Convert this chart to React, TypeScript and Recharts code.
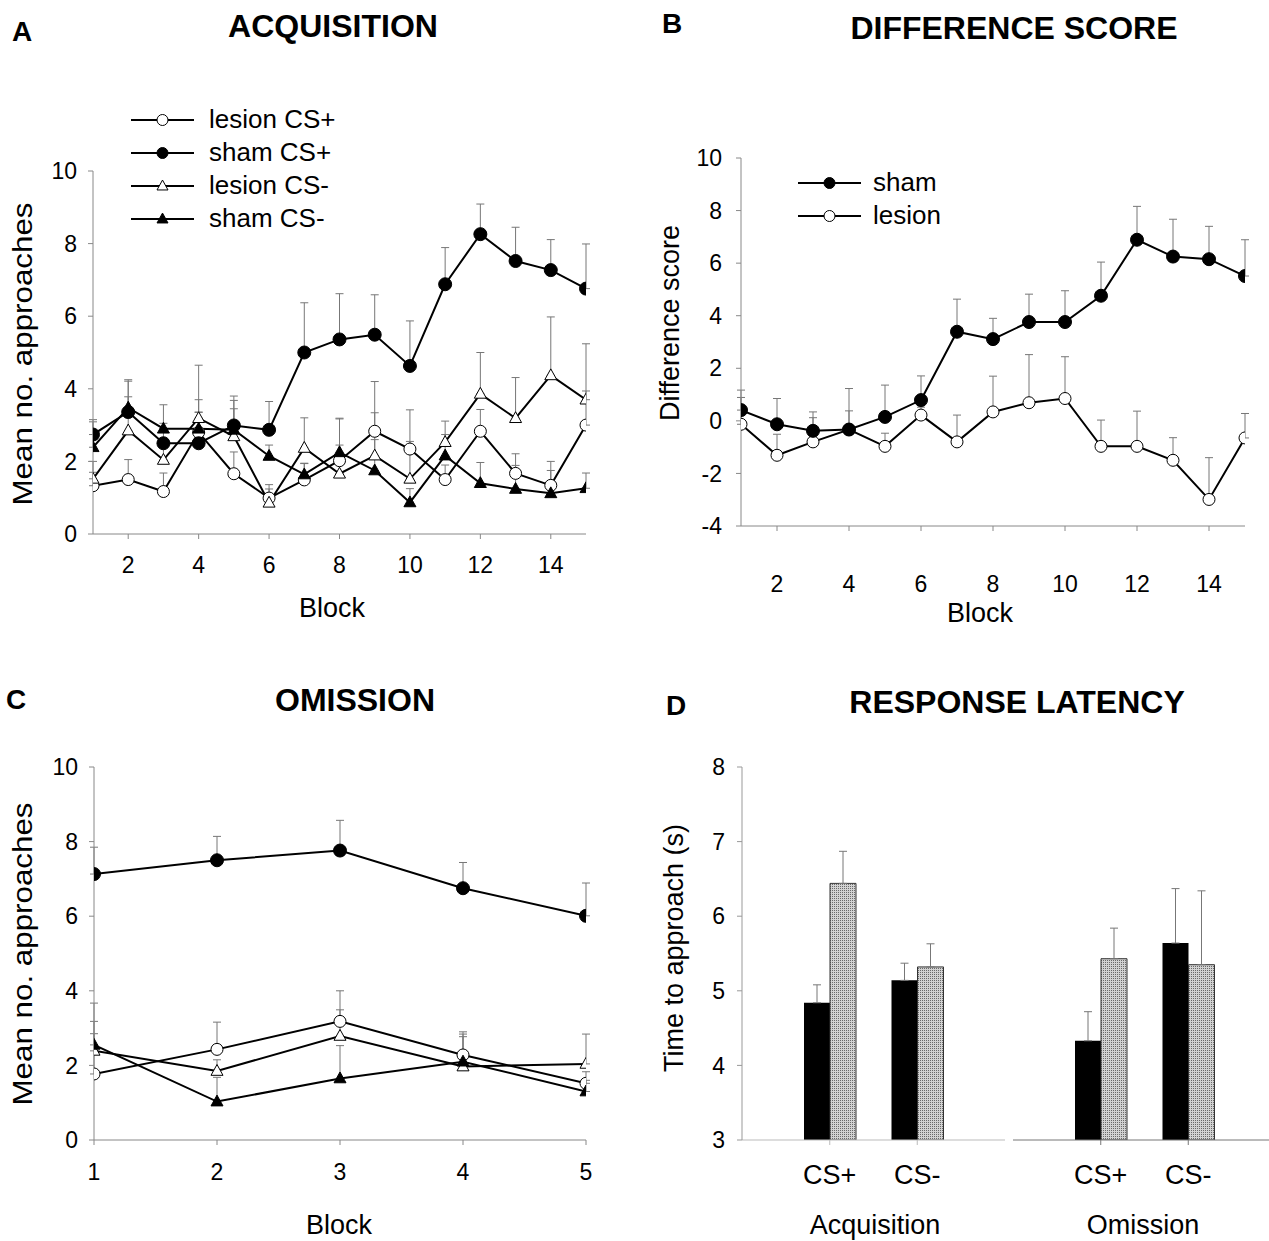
import React from "react";
import {
  LineChart,
  Line,
  XAxis,
  YAxis,
  ErrorBar,
  Legend,
  BarChart,
  Bar,
} from "recharts";

const FONT = "'Liberation Sans', Arial, Helvetica, sans-serif";

// Panel A - acquisition, mean approaches per block
const acqBlocks = [1, 2, 3, 4, 5, 6, 7, 8, 9, 10, 11, 12, 13, 14, 15];
const acqLesionPlus = [1.33, 1.5, 1.17, 2.8, 1.66, 0.99, 1.49, 2.02, 2.83, 2.34, 1.5, 2.83, 1.67, 1.34, 3.0];
const acqLesionPlusErr = [0.37, 0.55, 0.51, 0.55, 0.6, 0.37, 0.46, 0.43, 1.37, 1.08, 0.4, 0.6, 0.54, 0.66, 0.94];
const acqShamPlus = [2.74, 3.36, 2.5, 2.5, 2.99, 2.87, 5.0, 5.36, 5.49, 4.63, 6.88, 8.26, 7.52, 7.27, 6.76];
const acqShamPlusErr = [0.41, 0.85, 0.55, 0.86, 0.81, 0.78, 1.37, 1.26, 1.1, 1.24, 1.01, 0.83, 0.93, 0.84, 1.23];
const acqLesionMinus = [1.52, 2.85, 2.04, 3.19, 2.69, 0.86, 2.37, 1.66, 2.16, 1.52, 2.53, 3.86, 3.19, 4.37, 3.7];
const acqLesionMinusErr = [0.48, 0.93, 0.5, 1.46, 0.76, 0.38, 0.83, 1.51, 1.18, 1.03, 0.58, 1.14, 1.12, 1.61, 1.54];
const acqShamMinus = [2.39, 3.48, 2.9, 2.9, 2.87, 2.15, 1.64, 2.25, 1.75, 0.87, 2.16, 1.4, 1.24, 1.12, 1.26];
const acqShamMinusErr = [0.7, 0.77, 0.66, 0.8, 0.81, 0.3, 0.3, 0.94, 0.85, 0.38, 0.58, 0.57, 0.65, 0.63, 0.42];

// Panel B - difference score (CS+ minus CS-)
const diffSham = [0.41, -0.13, -0.38, -0.33, 0.15, 0.79, 3.39, 3.11, 3.76, 3.76, 4.76, 6.89, 6.25, 6.15, 5.51];
const diffShamErr = [0.76, 0.98, 0.72, 1.56, 1.21, 0.92, 1.24, 0.79, 1.06, 1.19, 1.28, 1.27, 1.42, 1.25, 1.38];
const diffLesion = [-0.13, -1.31, -0.8, -0.33, -0.97, 0.22, -0.8, 0.34, 0.69, 0.85, -0.97, -0.97, -1.5, -2.99, -0.65];
const diffLesionErr = [1.02, 0.8, 0.92, 0.71, 0.5, 0.3, 1.02, 1.36, 1.83, 1.59, 1.0, 1.34, 0.86, 1.59, 0.93];

// Panel C - omission
const omBlocks = [1, 2, 3, 4, 5];
const omLesionPlus = [1.77, 2.43, 3.18, 2.28, 1.52];
const omLesionPlusErr = [1.41, 0.73, 0.82, 0.62, 0.31];
const omShamPlus = [7.13, 7.5, 7.76, 6.75, 6.01];
const omShamPlusErr = [0.72, 0.64, 0.81, 0.69, 0.88];
const omLesionMinus = [2.39, 1.85, 2.79, 1.97, 2.04];
const omLesionMinusErr = [1.28, 0.3, 0.7, 0.87, 0.8];
const omShamMinus = [2.55, 1.03, 1.65, 2.1, 1.3];
const omShamMinusErr = [0.3, 0.65, 0.88, 0.67, 0.3];

// Panel D - response latency (acquisition CS+, CS-, omission CS+, CS-)
const cues = ["CS+", "CS-"];
const latSham = [4.84, 5.14, 4.33, 5.64];
const latShamErr = [0.24, 0.23, 0.39, 0.73];
const latLesion = [6.44, 5.32, 5.43, 5.35];
const latLesionErr = [0.43, 0.31, 0.41, 0.99];

const up = (e: number) => [0, e];

const acqData = acqBlocks.map((block, i) => ({
  block,
  lesionPlus: acqLesionPlus[i],
  lesionPlusErr: up(acqLesionPlusErr[i]),
  shamPlus: acqShamPlus[i],
  shamPlusErr: up(acqShamPlusErr[i]),
  lesionMinus: acqLesionMinus[i],
  lesionMinusErr: up(acqLesionMinusErr[i]),
  shamMinus: acqShamMinus[i],
  shamMinusErr: up(acqShamMinusErr[i]),
}));

const diffData = acqBlocks.map((block, i) => ({
  block,
  sham: diffSham[i],
  shamErr: up(diffShamErr[i]),
  lesion: diffLesion[i],
  lesionErr: up(diffLesionErr[i]),
}));

const omData = omBlocks.map((block, i) => ({
  block,
  lesionPlus: omLesionPlus[i],
  lesionPlusErr: up(omLesionPlusErr[i]),
  shamPlus: omShamPlus[i],
  shamPlusErr: up(omShamPlusErr[i]),
  lesionMinus: omLesionMinus[i],
  lesionMinusErr: up(omLesionMinusErr[i]),
  shamMinus: omShamMinus[i],
  shamMinusErr: up(omShamMinusErr[i]),
}));

const latData = (offset: number) =>
  cues.map((cue, i) => ({
    cue,
    sham: latSham[offset + i],
    shamErr: up(latShamErr[offset + i]),
    lesion: latLesion[offset + i],
    lesionErr: up(latLesionErr[offset + i]),
  }));

type Kind = "openCircle" | "filledCircle" | "openTriangle" | "filledTriangle";

const kinds: Record<string, Kind> = {
  lesionPlus: "openCircle",
  shamPlus: "filledCircle",
  lesionMinus: "openTriangle",
  shamMinus: "filledTriangle",
  sham: "filledCircle",
  lesion: "openCircle",
};

const Marker = ({ cx, cy, kind, size }: { cx?: number; cy?: number; kind: Kind; size: number }) => {
  if (cx == null || cy == null) return null;
  const fill = kind.startsWith("filled") ? "#000" : "#fff";
  if (kind.endsWith("Circle")) {
    return <circle cx={cx} cy={cy} r={size / 2} fill={fill} stroke="#000" strokeWidth={1} />;
  }
  const h = size * 0.9;
  const pts = `${cx},${cy - h * 0.6} ${cx - size / 2},${cy + h * 0.4} ${cx + size / 2},${cy + h * 0.4}`;
  return <polygon points={pts} fill={fill} stroke="#000" strokeWidth={1} />;
};

const dotFor = (kind: Kind, size: number) => (p: any) =>
  <Marker key={`${kind}-${p.index}`} cx={p.cx} cy={p.cy} kind={kind} size={size} />;

// legend rows in the order the figure lists them
const LegendBox = ({ payload, gap, order }: any) => {
  const rows = [...(payload || [])].sort(
    (a: any, b: any) => order.indexOf(a.dataKey) - order.indexOf(b.dataKey)
  );
  return (
    <div style={{ fontFamily: FONT, fontSize: 26, color: "#000" }}>
      {rows.map((entry: any) => (
        <div key={entry.value} style={{ display: "flex", alignItems: "center", height: 33 }}>
          <svg width={63} height={16}>
            <line x1={0} y1={8} x2={63} y2={8} stroke="#000" strokeWidth={2} />
            <Marker cx={31.5} cy={8} kind={kinds[entry.dataKey]} size={11} />
          </svg>
          <span style={{ marginLeft: gap }}>{entry.value}</span>
        </div>
      ))}
    </div>
  );
};

const Txt = ({ x, y, size, bold, children, rotate, stretch = 1 }: any) => (
  <div
    style={{
      position: "absolute",
      left: x,
      top: y,
      transform: `translate(-50%, -50%)${rotate ? " rotate(-90deg)" : ""} scaleX(${stretch})`,
      fontSize: size,
      fontWeight: bold ? "bold" : "normal",
      lineHeight: 1,
      whiteSpace: "nowrap",
      color: "#000",
    }}
  >
    {children}
  </div>
);

const tickStyle = { fill: "#000", fontSize: 23 };
const errProps = { width: 4, stroke: "#777", strokeWidth: 1, direction: "y" as const };

const fourLines = (size: number) => [
  <Line key="lp" dataKey="lesionPlus" name="lesion CS+" stroke="#000" strokeWidth={2} dot={dotFor("openCircle", size)} activeDot={false} isAnimationActive={false}>
    <ErrorBar dataKey="lesionPlusErr" {...errProps} />
  </Line>,
  <Line key="sp" dataKey="shamPlus" name="sham CS+" stroke="#000" strokeWidth={2} dot={dotFor("filledCircle", size + 1)} activeDot={false} isAnimationActive={false}>
    <ErrorBar dataKey="shamPlusErr" {...errProps} />
  </Line>,
  <Line key="lm" dataKey="lesionMinus" name="lesion CS-" stroke="#000" strokeWidth={2} dot={dotFor("openTriangle", size)} activeDot={false} isAnimationActive={false}>
    <ErrorBar dataKey="lesionMinusErr" {...errProps} />
  </Line>,
  <Line key="sm" dataKey="shamMinus" name="sham CS-" stroke="#000" strokeWidth={2} dot={dotFor("filledTriangle", size)} activeDot={false} isAnimationActive={false}>
    <ErrorBar dataKey="shamMinusErr" {...errProps} />
  </Line>,
];

const Stipple = ({ id }: { id: string }) => (
  <defs>
    <pattern id={id} width={2} height={2} patternUnits="userSpaceOnUse">
      <rect width={2} height={2} fill="#d2d2d2" />
      <rect width={1} height={1} fill="#6a6a6a" />
    </pattern>
  </defs>
);

const LatencyChart = ({ data, axisColor, showY, id, width, marginLeft }: any) => (
  <BarChart width={width} height={621} data={data} barGap={0} barSize={26} margin={{ top: 147, right: 0, bottom: 71, left: marginLeft }}>
    <Stipple id={id} />
    <XAxis dataKey="cue" stroke={axisColor} tickSize={5} tickMargin={20} height={30} padding={{ left: 44, right: 44 }} tick={{ fill: "#000", fontSize: 27 }} />
    <YAxis hide={!showY} width={60} domain={[3, 8]} ticks={[3, 4, 5, 6, 7, 8]} allowDataOverflow stroke="#999" tickSize={5} tickMargin={12} tick={tickStyle} />
    <Bar dataKey="sham" fill="#000" isAnimationActive={false}>
      <ErrorBar dataKey="shamErr" {...errProps} />
    </Bar>
    <Bar dataKey="lesion" fill={`url(#${id})`} stroke="#333" strokeWidth={1} isAnimationActive={false}>
      <ErrorBar dataKey="lesionErr" {...errProps} />
    </Bar>
  </BarChart>
);

export default function App() {
  return (
    <div style={{ position: "absolute", left: 0, top: 0, width: 1269, height: 1241, overflow: "hidden", background: "#fff", fontFamily: FONT }}>
      {/* Panel A */}
      <div style={{ position: "absolute", left: 0, top: 0 }}>
        <LineChart width={620} height={600} data={acqData} margin={{ top: 171, right: 34, bottom: 36, left: 33 }}>
          <XAxis type="number" dataKey="block" domain={[1, 15]} ticks={[2, 4, 6, 8, 10, 12, 14]} allowDataOverflow stroke="#888" tickSize={5} tickMargin={18} height={30} tick={tickStyle} />
          <YAxis width={60} domain={[0, 10]} ticks={[0, 2, 4, 6, 8, 10]} allowDataOverflow stroke="#888" tickSize={5} tickMargin={11} tick={tickStyle} />
          {fourLines(12)}
          <Legend
            layout="vertical"
            align="center"
            verticalAlign="middle"
            wrapperStyle={{ left: 131, top: 103, width: 260 }}
            content={(p: any) => (
              <LegendBox payload={p.payload} gap={15} order={["lesionPlus", "shamPlus", "lesionMinus", "shamMinus"]} />
            )}
          />
        </LineChart>
      </div>

      {/* Panel B */}
      <div style={{ position: "absolute", left: 640, top: 0 }}>
        <LineChart width={629} height={600} data={diffData} margin={{ top: 158, right: 24, bottom: 44, left: 41 }}>
          <XAxis type="number" dataKey="block" domain={[1, 15]} ticks={[2, 4, 6, 8, 10, 12, 14]} allowDataOverflow stroke="#888" tickSize={5} tickMargin={45} height={30} tick={tickStyle} />
          <YAxis width={60} domain={[-4, 10]} ticks={[-4, -2, 0, 2, 4, 6, 8, 10]} allowDataOverflow stroke="#888" tickSize={5} tickMargin={14} tick={tickStyle} />
          <Line dataKey="lesion" name="lesion" stroke="#000" strokeWidth={2} dot={dotFor("openCircle", 12)} activeDot={false} isAnimationActive={false}>
            <ErrorBar dataKey="lesionErr" {...errProps} />
          </Line>
          <Line dataKey="sham" name="sham" stroke="#000" strokeWidth={2} dot={dotFor("filledCircle", 13)} activeDot={false} isAnimationActive={false}>
            <ErrorBar dataKey="shamErr" {...errProps} />
          </Line>
          <Legend
            layout="vertical"
            align="center"
            verticalAlign="middle"
            wrapperStyle={{ left: 158, top: 166, width: 200 }}
            content={(p: any) => <LegendBox payload={p.payload} gap={12} order={["sham", "lesion"]} />}
          />
        </LineChart>
      </div>

      {/* Panel C */}
      <div style={{ position: "absolute", left: 0, top: 620 }}>
        <LineChart width={620} height={621} data={omData} margin={{ top: 147, right: 34, bottom: 71, left: 34 }}>
          <XAxis type="number" dataKey="block" domain={[1, 5]} ticks={[1, 2, 3, 4, 5]} allowDataOverflow stroke="#888" tickSize={5} tickMargin={19} height={30} tick={tickStyle} />
          <YAxis width={60} domain={[0, 10]} ticks={[0, 2, 4, 6, 8, 10]} allowDataOverflow stroke="#888" tickSize={5} tickMargin={11} tick={tickStyle} />
          {fourLines(12)}
        </LineChart>
      </div>

      {/* Panel D */}
      <div style={{ position: "absolute", left: 640, top: 620 }}>
        <LatencyChart data={latData(0)} axisColor="#bbb" showY id="stippleAcq" width={365} marginLeft={42} />
      </div>
      <div style={{ position: "absolute", left: 1013, top: 620 }}>
        <LatencyChart data={latData(2)} axisColor="#777" showY={false} id="stippleOm" width={263} marginLeft={0} />
      </div>

      {/* titles and axis titles */}
      <Txt x={22} y={32} size={28} bold>A</Txt>
      <Txt x={333} y={26} size={32} bold>ACQUISITION</Txt>
      <Txt x={672} y={24} size={28} bold>B</Txt>
      <Txt x={1014} y={28} size={32} bold>DIFFERENCE SCORE</Txt>
      <Txt x={16} y={700} size={28} bold>C</Txt>
      <Txt x={355} y={700} size={32} bold>OMISSION</Txt>
      <Txt x={676} y={706} size={28} bold>D</Txt>
      <Txt x={1017} y={702} size={32} bold>RESPONSE LATENCY</Txt>

      <Txt x={23} y={354} size={27} rotate stretch={1.16}>Mean no. approaches</Txt>
      <Txt x={332} y={608} size={27}>Block</Txt>
      <Txt x={670} y={323} size={27} rotate>Difference score</Txt>
      <Txt x={980} y={613} size={27}>Block</Txt>
      <Txt x={23} y={954} size={27} rotate stretch={1.16}>Mean no. approaches</Txt>
      <Txt x={339} y={1225} size={27}>Block</Txt>
      <Txt x={674} y={948} size={27} rotate>Time to approach (s)</Txt>
      <Txt x={875} y={1225} size={27}>Acquisition</Txt>
      <Txt x={1143} y={1225} size={27}>Omission</Txt>
    </div>
  );
}
